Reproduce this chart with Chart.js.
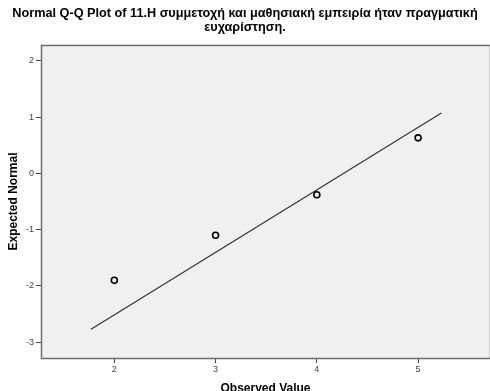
<!DOCTYPE html>
<html>
<head>
<meta charset="utf-8">
<script src="https://cdn.jsdelivr.net/npm/chart.js@4"></script>
<style>
  html, body { margin: 0; padding: 0; background: #fff; }
  #wrap { width: 490px; height: 391px; }
</style>
</head>
<body>
<div id="wrap"><canvas id="qq" width="490" height="391"></canvas></div>
<script>
  const titleLines = ['Normal Q-Q Plot of 11.Η συμμετοχή και μαθησιακή εμπειρία ήταν πραγματική', 'ευχαρίστηση.'];
  const observed = [2, 3, 4, 5];
  const expected = [-1.90, -1.10, -0.38, 0.63];
  const lineX = [1.77, 5.23];
  const lineY = [-2.77, 1.07];
  const xTicks = [2, 3, 4, 5];
  const yTicks = [-3, -2, -1, 0, 1, 2];

  const fontFamily = '"Liberation Sans", Arial, sans-serif';

  // grey plot panel with a frame around it
  const panel = {
    id: 'panel',
    beforeDraw(chart) {
      const { ctx, chartArea: a } = chart;
      ctx.save();
      ctx.fillStyle = '#ffffff';
      ctx.fillRect(0, 0, chart.width, chart.height);
      ctx.fillStyle = '#f0f0f0';
      ctx.fillRect(a.left, a.top, a.right - a.left, a.bottom - a.top);
      ctx.restore();
    },
    afterDraw(chart) {
      const { ctx, chartArea: a } = chart;
      ctx.save();
      ctx.strokeStyle = '#6e6e6e';
      ctx.lineWidth = 1.5;
      ctx.strokeRect(a.left + 0.5, a.top + 0.5, a.right - a.left, a.bottom - a.top);
      ctx.restore();
    }
  };

  const tickFont = { family: fontFamily, size: 9 };
  const axisTitleFont = { family: fontFamily, size: 12, weight: 'bold', lineHeight: 1 };

  new Chart(document.getElementById('qq'), {
    type: 'scatter',
    data: {
      datasets: [
        {
          data: observed.map((x, i) => ({ x, y: expected[i] })),
          pointRadius: 3,
          pointBorderWidth: 1.6,
          pointBorderColor: '#000',
          pointBackgroundColor: 'rgba(0,0,0,0)',
          showLine: false
        },
        {
          data: lineX.map((x, i) => ({ x, y: lineY[i] })),
          showLine: true,
          borderColor: '#333',
          borderWidth: 1.2,
          pointRadius: 0
        }
      ]
    },
    options: {
      responsive: false,
      animation: false,
      layout: { autoPadding: false, padding: 0 },
      plugins: {
        legend: { display: false },
        tooltip: { enabled: false },
        title: {
          display: true,
          text: titleLines,
          color: '#000',
          font: { family: fontFamily, size: 12.7, weight: 'bold', lineHeight: 1.05 },
          padding: { top: 7, bottom: 11.3 }
        }
      },
      scales: {
        x: {
          type: 'linear',
          min: 1.276,
          max: 5.71,
          afterFit: s => { s.height = 33; },
          afterBuildTicks: s => { s.ticks = xTicks.map(v => ({ value: v })); },
          grid: { drawOnChartArea: false, tickLength: 5, tickColor: '#444', tickWidth: 1 },
          border: { display: false },
          ticks: { color: '#444', font: tickFont, padding: 1, maxRotation: 0 },
          title: { display: true, text: 'Observed Value', color: '#000', font: axisTitleFont, padding: { top: 0, bottom: -4 } }
        },
        y: {
          type: 'linear',
          min: -3.28,
          max: 2.28,
          afterFit: s => { s.width = 41; },
          afterBuildTicks: s => { s.ticks = yTicks.map(v => ({ value: v })); },
          grid: { drawOnChartArea: false, tickLength: 5, tickColor: '#444', tickWidth: 1 },
          border: { display: false },
          ticks: { color: '#444', font: tickFont, padding: 2 },
          title: { display: true, text: 'Expected Normal', color: '#000', font: axisTitleFont, padding: { top: 7.5, bottom: 0 } }
        }
      }
    },
    plugins: [panel]
  });
</script>
</body>
</html>
